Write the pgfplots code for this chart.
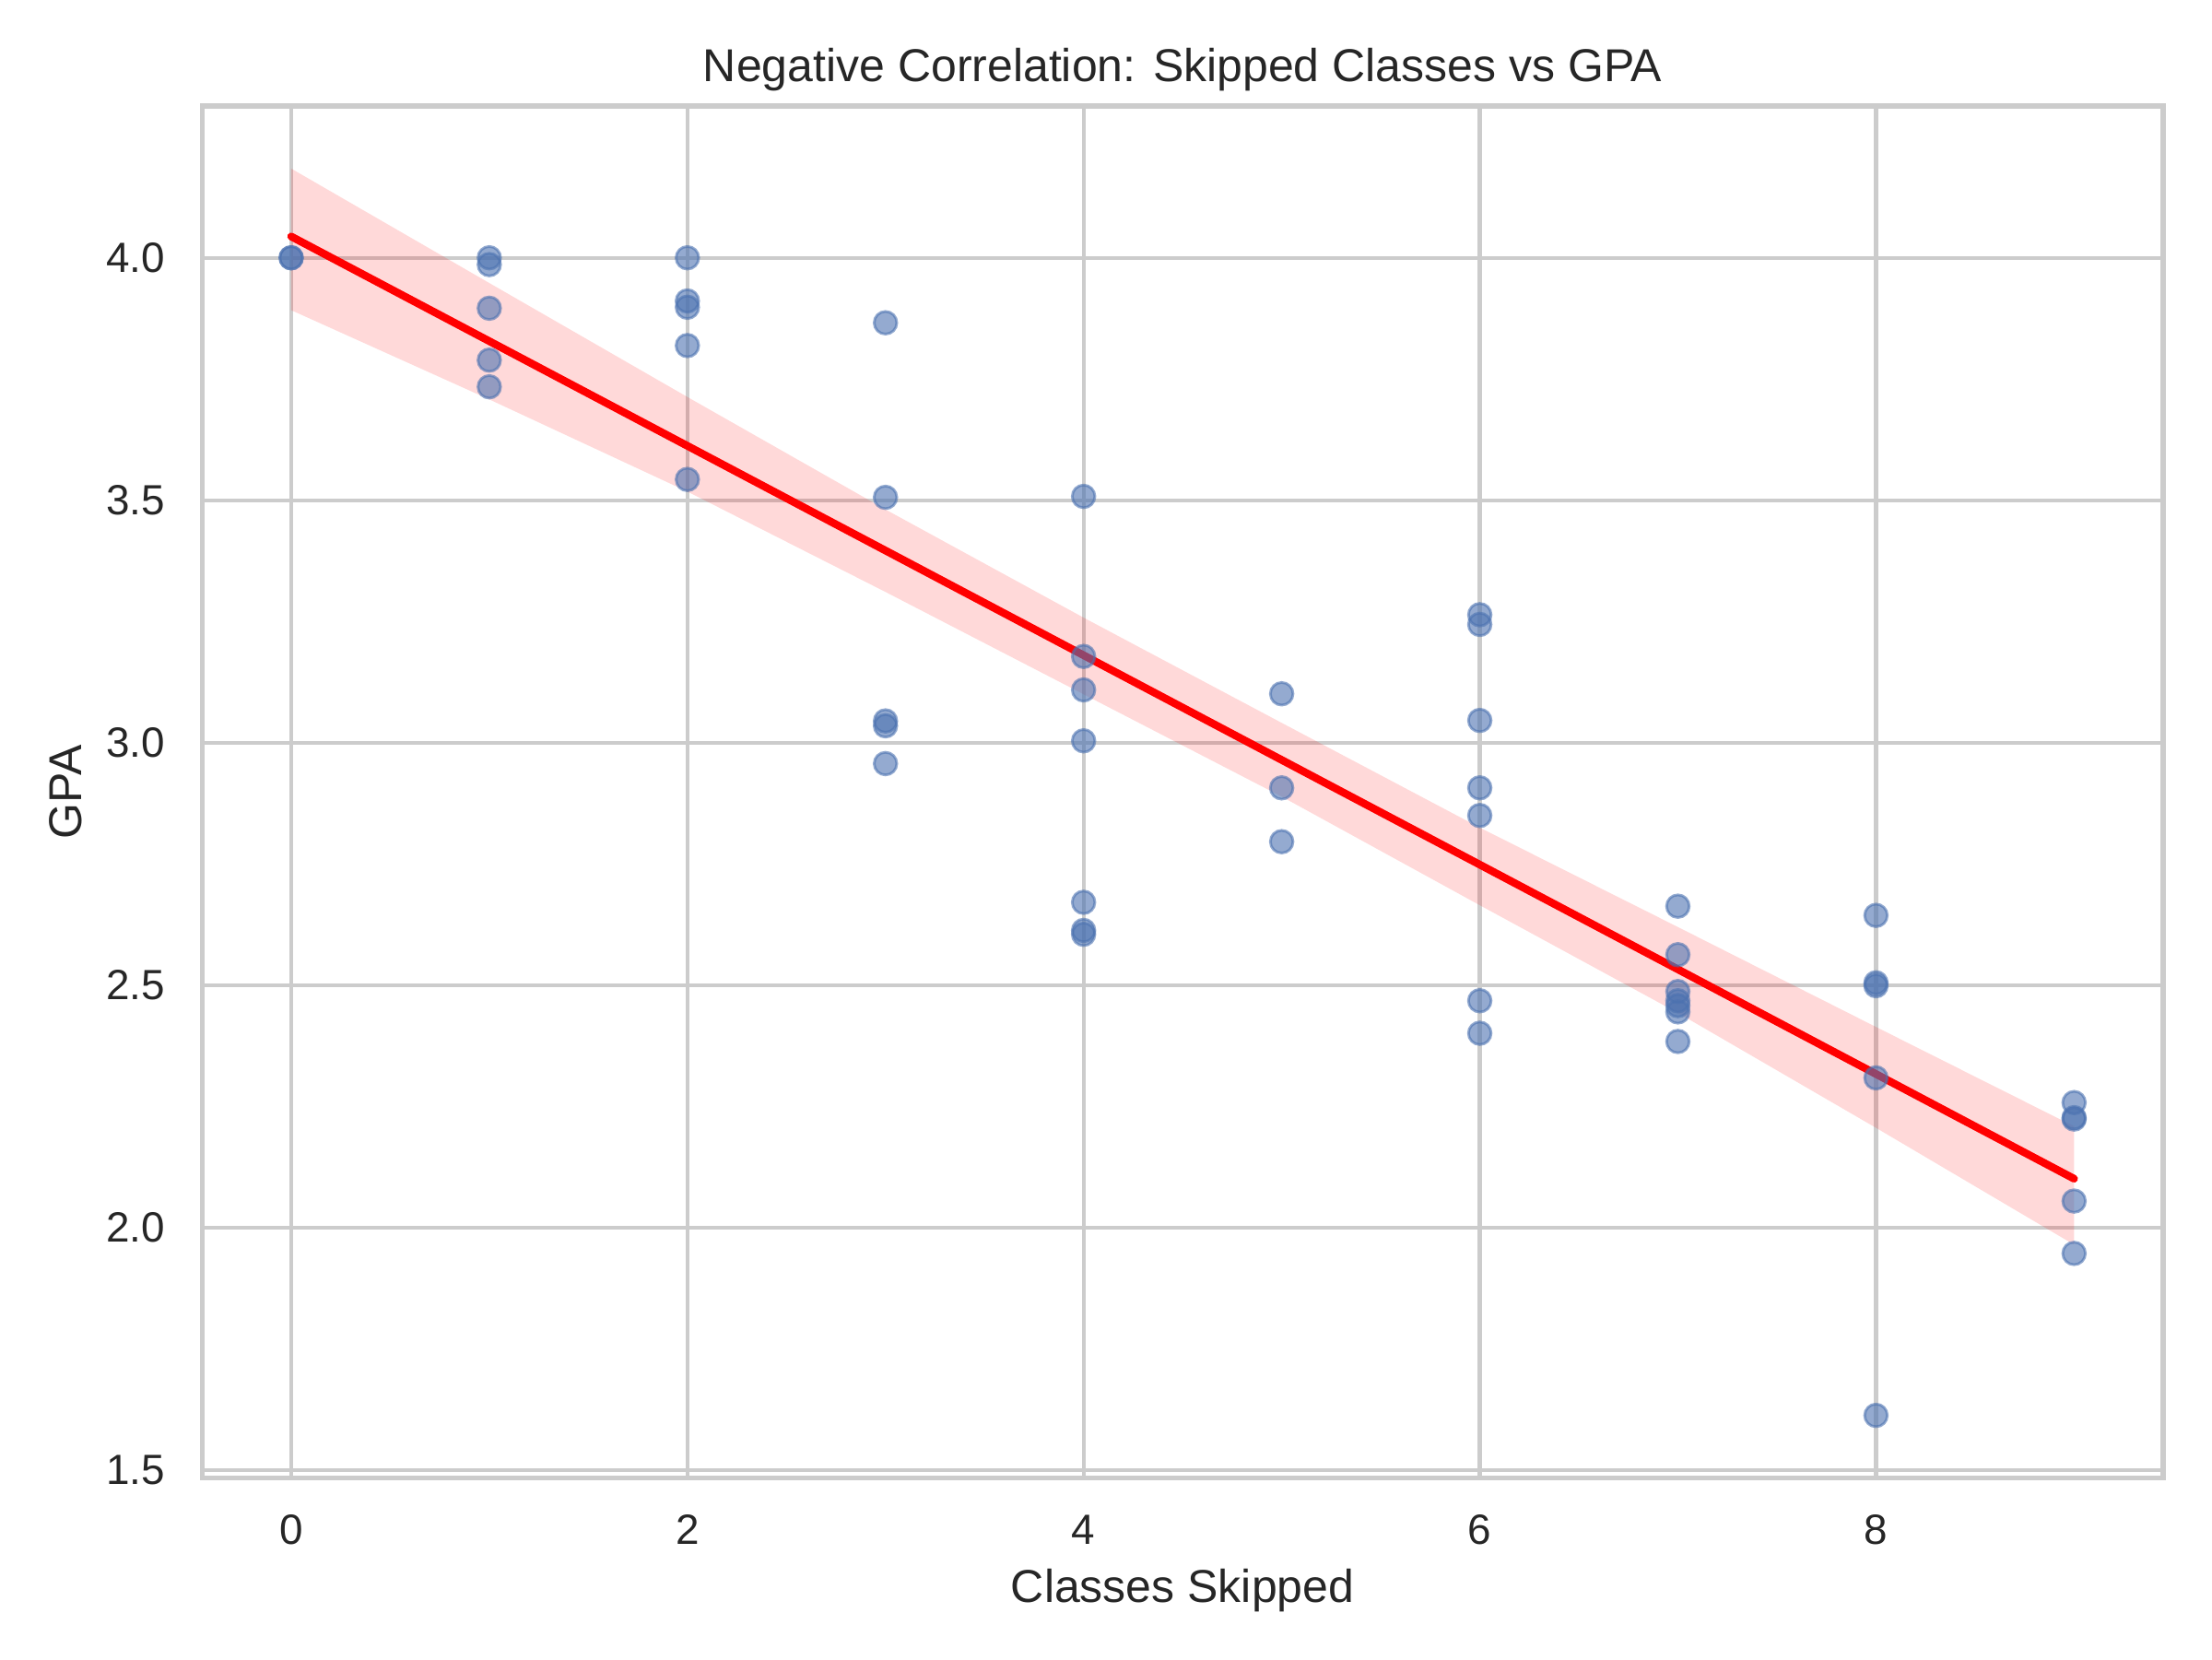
\documentclass[border=0pt]{standalone}
\usepackage{fontspec}
\setmainfont{Liberation Sans}
\usepackage{pgfplots}
\usepackage{pgfplotstable}
\pgfplotsset{compat=1.18}
\definecolor{sbblue}{HTML}{4C72B0}
\definecolor{gridgray}{HTML}{CCCCCC}
\definecolor{txt}{HTML}{262626}

\pgfplotstableread{
x y
0 4.000
0 4.000
1 4.000
1 3.986
1 3.896
1 3.789
1 3.734
2 4.000
2 3.911
2 3.898
2 3.819
2 3.543
3 3.866
3 3.506
3 3.045
3 3.035
3 2.957
4 3.508
4 3.178
4 3.109
4 3.004
4 2.671
4 2.613
4 2.605
5 3.101
5 2.907
5 2.796
6 3.264
6 3.244
6 3.046
6 2.907
6 2.850
6 2.468
6 2.401
7 2.663
7 2.563
7 2.487
7 2.468
7 2.458
7 2.445
7 2.384
8 2.644
8 2.505
8 2.499
8 2.309
8 1.613
9 2.258
9 2.227
9 2.224
9 2.055
9 1.947
}\scatterdata

% confidence band: upper edge left to right, then lower edge right to left
\pgfplotstableread{
x y
0 4.184
1 3.948
2 3.713
3 3.481
4 3.258
5 3.041
6 2.825
7 2.620
8 2.414
9 2.209
9 1.965
8 2.206
7 2.443
6 2.665
5 2.889
4 3.100
3 3.311
2 3.518
1 3.708
0 3.892
}\banddata

\pgfplotstableread{
x y
0 4.044
9 2.101
}\linedata

\begin{document}
\begin{tikzpicture}
\begin{axis}[
  scale only axis,
  width=510.6pt, height=357.1pt,
  xmin=-0.45, xmax=9.45,
  ymin=1.4845, ymax=4.313,
  xtick={0,2,4,6,8},
  ytick={1.5,2.0,2.5,3.0,3.5,4.0},
  major tick length=0pt,
  minor tick num=0,
  grid=major,
  major grid style={gridgray, line width=1pt},
  axis line style={gridgray, line width=1.25pt},
  /pgf/number format/assume math mode=true,
  ticklabel style={font=\fontsize{11}{13}\selectfont, text=txt},
  xticklabel style={anchor=base, inner sep=0pt, yshift=-17.4pt},
  yticklabel style={anchor=east, inner sep=0pt, xshift=-9.5pt,
    /pgf/number format/.cd, fixed, fixed zerofill, precision=1},
  scaled ticks=false,
]
\addplot[only marks, mark=*, mark size=2.95pt,
  mark options={draw=sbblue, fill=sbblue, line width=0.7pt, opacity=0.6}]
  table[x=x, y=y] {\scatterdata};
\addplot[draw=none, fill=red, fill opacity=0.15] table[x=x, y=y] {\banddata};
\addplot[red, line width=2pt, line cap=round] table[x=x, y=y] {\linedata};
\end{axis}
\node[anchor=base, inner sep=0pt, text=txt, font=\fontsize{12}{14}\selectfont]
  at ([yshift=6.3pt]current axis.north) {Negative Correlation: Skipped Classes vs GPA};
\node[anchor=base, inner sep=0pt, text=txt, font=\fontsize{12}{14}\selectfont]
  at ([yshift=-32.4pt]current axis.south) {Classes Skipped};
\node[anchor=base, rotate=90, inner sep=0pt, text=txt, font=\fontsize{12}{14}\selectfont]
  at ([xshift=-31.3pt]current axis.west) {GPA};
\pgfresetboundingbox
\path[use as bounding box] ([shift={(-52.6pt,-47.3pt)}]current axis.south west)
  rectangle ([shift={(12.7pt,27.6pt)}]current axis.north east);
\end{tikzpicture}
\end{document}
